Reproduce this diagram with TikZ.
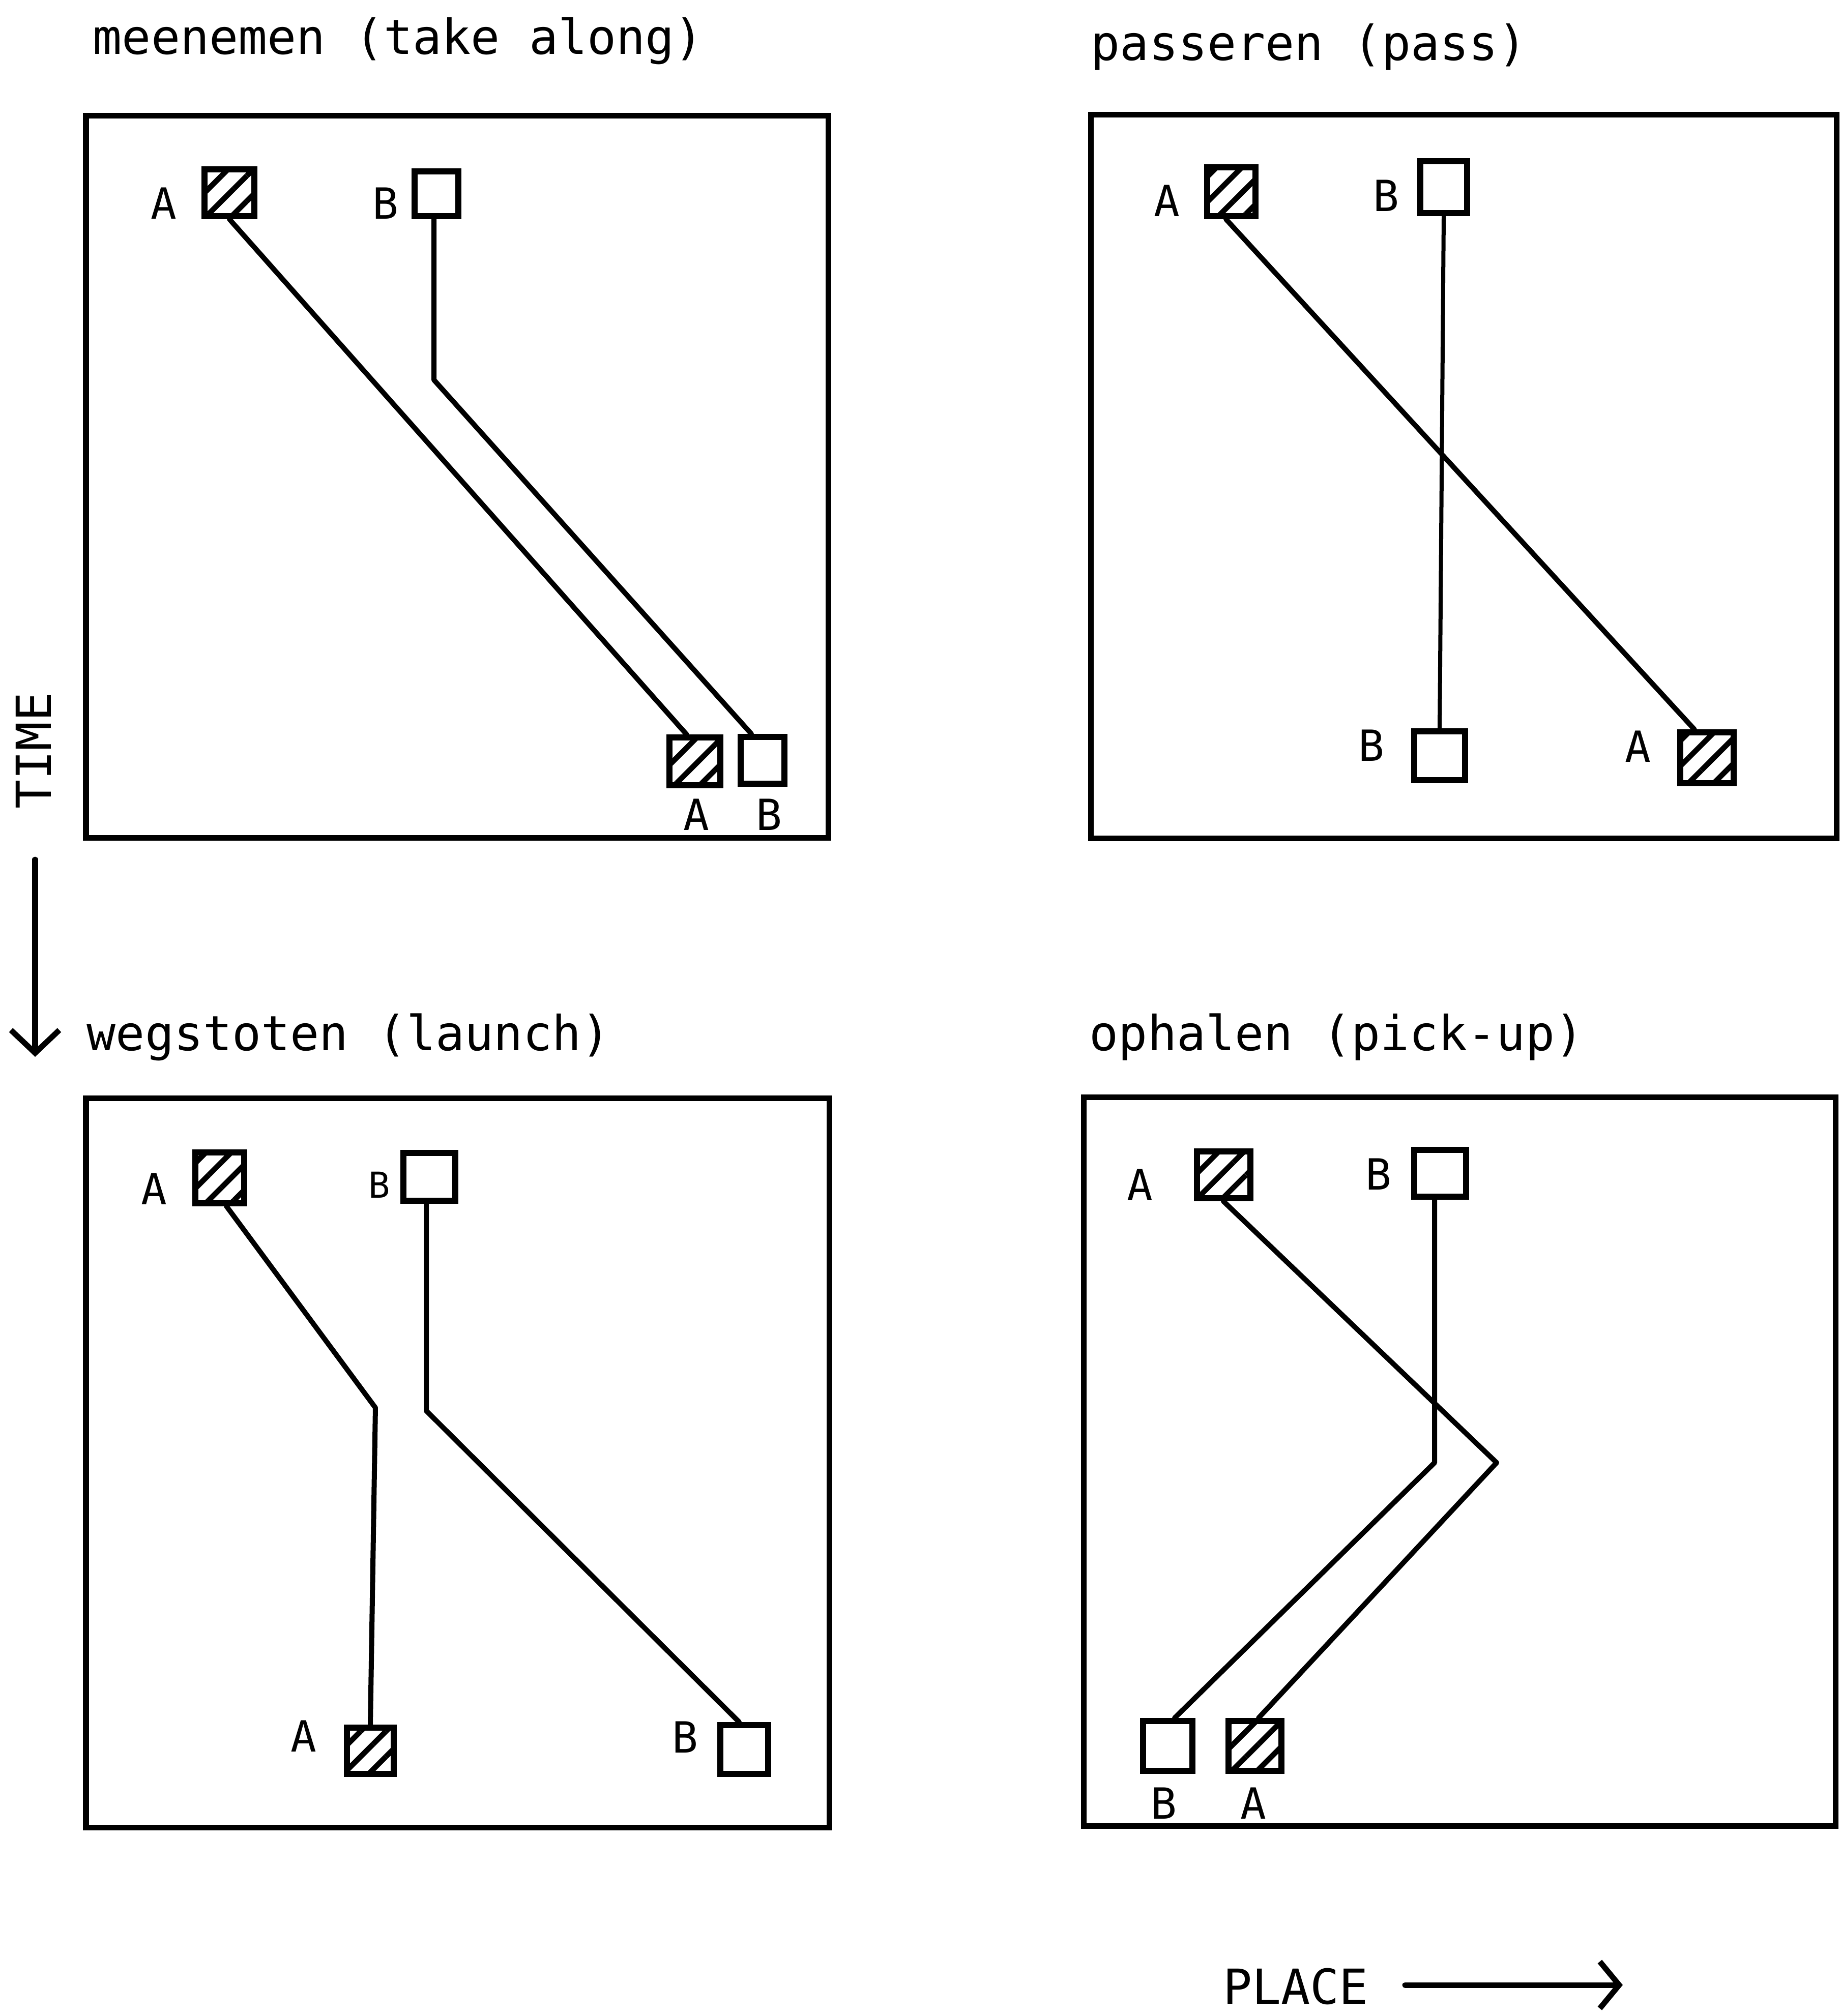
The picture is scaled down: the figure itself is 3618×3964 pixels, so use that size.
\documentclass[tikz,border=0pt]{standalone}
\usepackage{fontspec}
\setmainfont{DejaVu Sans Mono}
\usetikzlibrary{calc,arrows.meta,patterns.meta}
\begin{document}
\begin{tikzpicture}[x=0.01cm,y=-0.01cm,
  frame/.style={draw,line width=0.11cm},
  track/.style={draw,line width=0.10cm,line join=round,line cap=round},
  sqbox/.style={draw,line width=0.12cm,fill=white,inner sep=0pt},
  hatched/.style={sqbox,postaction={pattern={Lines[angle=45,distance=10pt,line width=3pt]}}},
  lbl/.style={font=\fontsize{24}{28}\selectfont,inner sep=0pt},
  ttl/.style={font=\fontsize{27}{32}\selectfont,inner sep=0pt,anchor=base west},
  axislbl/.style={font=\fontsize{27}{32}\selectfont,inner sep=0pt},
  axisarrow/.style={draw,line width=0.11cm,line cap=round}
]
\useasboundingbox (0,0) rectangle (3618,3964);
\fill[white] (0,0) rectangle (3618,3964);

% ---------- titles ----------
\node[ttl] (t1) at (182,107) {meenemen (take along)};
\node[ttl] (t2) at (2144,119) {passeren (pass)};
\node[ttl] (t3) at (170,2065) {wegstoten (launch)};
\node[ttl] (t4) at (2141,2065) {ophalen (pick-up)};

% ---------- frames ----------
\draw[frame] (169,228) rectangle (1628,1647);
\draw[frame] (2144,226) rectangle (3610,1648);
\draw[frame] (169,2159) rectangle (1630,3593);
\draw[frame] (2130,2157) rectangle (3608,3590);

% ---------- panel 1: meenemen ----------
\node[hatched,minimum width=0.97cm,minimum height=0.92cm] (mA1) at (451,379) {};
\node[sqbox,minimum width=0.86cm,minimum height=0.87cm] (mB1) at (858,381) {};
\node[hatched,minimum width=1.00cm,minimum height=0.93cm] (mA2) at (1366,1497) {};
\node[sqbox,minimum width=0.86cm,minimum height=0.92cm] (mB2) at (1499,1495) {};
\node[lbl] (mLA1) at (322,400) {A};
\node[lbl] (mLB1) at (758,400) {B};
\node[lbl] (mLA2) at (1369,1602) {A};
\node[lbl] (mLB2) at (1512,1602) {B};
\coordinate (mBk) at (853,747);
\draw[track] (mA1.south) -- ($(mA2.north)+(-16,0)$);
\draw[track] (mB1.south -| mBk) -- (mBk) -- ($(mB2.north)+(-22,0)$);

% ---------- panel 2: passeren ----------
\node[hatched,minimum width=0.95cm,minimum height=0.96cm] (pA1) at (2420,377) {};
\node[sqbox,minimum width=0.92cm,minimum height=1.02cm] (pB1) at (2838,368) {};
\node[sqbox,minimum width=1.00cm,minimum height=0.96cm] (pB2) at (2830,1486) {};
\node[hatched,minimum width=1.05cm,minimum height=0.99cm] (pA2) at (3355,1490) {};
\node[lbl] (pLA1) at (2294,395) {A};
\node[lbl] (pLB1) at (2725,385) {B};
\node[lbl] (pLB2) at (2696,1466) {B};
\node[lbl] (pLA2) at (3220,1468) {A};
\draw[track] ($(pA1.south)+(-10,0)$) -- ($(pA2.north)+(-24,0)$);
\draw[track,line width=0.08cm] (pB1.south) -- (pB2.north);

% ---------- panel 3: wegstoten ----------
\node[hatched,minimum width=0.96cm,minimum height=0.99cm] (wA1) at (432,2316) {};
\node[sqbox,minimum width=1.01cm,minimum height=0.94cm] (wB1) at (844,2314) {};
\node[hatched,minimum width=0.92cm,minimum height=0.91cm] (wA2) at (728,3442) {};
\node[sqbox,minimum width=0.94cm,minimum height=0.96cm] (wB2) at (1463,3440) {};
\node[lbl] (wLA1) at (303,2338) {A};
\node[lbl,font=\fontsize{20}{24}\selectfont] (wLB1) at (746,2330) {B};
\node[lbl] (wLA2) at (597,3414) {A};
\node[lbl] (wLB2) at (1347,3416) {B};
\coordinate (wAk) at (738,2768);
\coordinate (wBk) at (838,2774);
\draw[track] ($(wA1.south)+(13,0)$) -- (wAk) -- (wA2.north);
\draw[track] (wB1.south -| wBk) -- (wBk) -- ($(wB2.north)+(-10,0)$);

% ---------- panel 4: ophalen ----------
\node[hatched,minimum width=1.05cm,minimum height=0.92cm] (oA1) at (2405,2310) {};
\node[sqbox,minimum width=1.02cm,minimum height=0.92cm] (oB1) at (2831,2307) {};
\node[hatched,minimum width=1.04cm,minimum height=0.98cm] (oA2) at (2467,3433) {};
\node[sqbox,minimum width=0.97cm,minimum height=0.98cm] (oB2) at (2295,3433) {};
\node[lbl] (oLA1) at (2241,2330) {A};
\node[lbl] (oLB1) at (2710,2309) {B};
\node[lbl] (oLA2) at (2464,3546) {A};
\node[lbl] (oLB2) at (2288,3546) {B};
\coordinate (oAk) at (2942,2876);
\coordinate (oBk) at (2820,2876);
\draw[track] (oA1.south) -- (oAk) -- ($(oA2.north)+(7,0)$);
\draw[track] (oB1.south -| oBk) -- (oBk) -- ($(oB2.north)+(14,0)$);

% ---------- axes ----------
\node[axislbl,rotate=90] (time) at (66,1476) {TIME};
\coordinate (tS) at (69,1690);
\coordinate (tE) at (69,2078);
\draw[axisarrow,-{Straight Barb[length=0.45cm,width=0.95cm]}] (tS) -- (tE);

\node[axislbl] (place) at (2547,3906) {PLACE};
\coordinate (pS) at (2762,3903);
\coordinate (pE) at (3190,3903);
\draw[axisarrow,-{Straight Barb[length=0.38cm,width=0.92cm]}] (pS) -- (pE);
\end{tikzpicture}
\end{document}
